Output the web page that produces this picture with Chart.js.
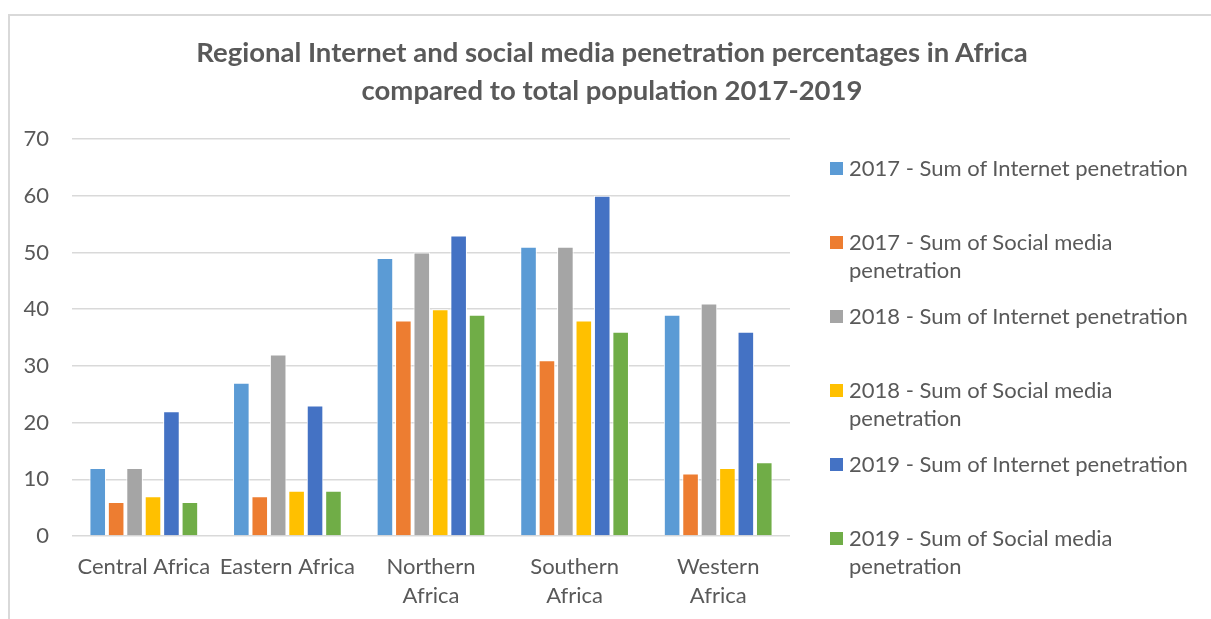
<!DOCTYPE html>
<html>
<head>
<meta charset="utf-8">
<script src="https://cdn.jsdelivr.net/npm/chart.js@4.4.1/dist/chart.umd.min.js"></script>
<style>
  html, body { margin: 0; padding: 0; background: #fff; overflow: hidden; }
  #frame {
    position: absolute; left: 8px; top: 14px; width: 1220px; height: 640px;
    border: 2px solid #d9d9d9; box-sizing: border-box;
  }
  #wrap { position: absolute; left: 0; top: 0; width: 1211px; height: 619px; }
  #title {
    position: absolute; left: 12px; top: 33px; width: 1200px; text-align: center;
    font-family: Lato, "Open Sans", sans-serif; font-size: 27.5px; font-weight: bold;
    line-height: 38px; color: #595959;
  }
  #legend {
    position: absolute; left: 830px; top: 154px; width: 380px;
    font-family: Lato, "Open Sans", sans-serif; font-size: 22px; color: #595959;
  }
  .item { position: relative; height: 74px; }
  .sw { position: absolute; left: 0; top: 8px; width: 13px; height: 13px; }
  .txt { position: absolute; left: 19px; top: 0; width: 358px; line-height: 28px; }
</style>
</head>
<body>
<div id="frame"></div>
<div id="wrap"><canvas id="chart" width="1211" height="619"></canvas></div>
<div id="title"></div>
<div id="legend"></div>
<script>
// regions on the x axis
const regions = [
  ["Central Africa"],
  ["Eastern Africa"],
  ["Northern", "Africa"],
  ["Southern", "Africa"],
  ["Western", "Africa"],
];

// values, in percent
const internet2017 = [12, 27, 49, 51, 39];
const social2017 = [6, 7, 38, 31, 11];
const internet2018 = [12, 32, 50, 51, 41];
const social2018 = [7, 8, 40, 38, 12];
const internet2019 = [22, 23, 53, 60, 36];
const social2019 = [6, 8, 39, 36, 13];

const seriesNames = [
  "2017 - Sum of Internet penetration",
  "2017 - Sum of Social media penetration",
  "2018 - Sum of Internet penetration",
  "2018 - Sum of Social media penetration",
  "2019 - Sum of Internet penetration",
  "2019 - Sum of Social media penetration",
];
const seriesValues = [internet2017, social2017, internet2018, social2018, internet2019, social2019];
const colors = ["#5B9BD5", "#ED7D31", "#A5A5A5", "#FFC000", "#4472C4", "#70AD47"];

const yTicks = [0, 10, 20, 30, 40, 50, 60, 70];

const titleLines = [
  "Regional Internet and social media penetration percentages in Africa",
  "compared to total population 2017-2019",
];

const font = "Lato, 'Open Sans', sans-serif";
const grey = "#595959";

document.getElementById("title").innerHTML = titleLines.join("<br>");

const chart = new Chart(document.getElementById("chart"), {
  type: "bar",
  data: {
    labels: regions,
    datasets: seriesNames.map((name, i) => ({
      label: name,
      data: seriesValues[i],
      backgroundColor: colors[i],
      borderColor: "#ffffff",
      borderWidth: 1,
      categoryPercentage: 0.77,
      barPercentage: 0.9,
    })),
  },
  options: {
    responsive: false,
    animation: false,
    layout: { padding: { top: 139, right: 421, bottom: 0, left: 0 } },
    plugins: {
      legend: { display: false },
      tooltip: { enabled: false },
      title: { display: false },
    },
    scales: {
      x: {
        grid: { display: false, drawTicks: false },
        border: { display: false },
        ticks: {
          color: grey,
          font: { family: font, size: 22, lineHeight: 1.32 },
          padding: 16,
          maxRotation: 0,
          autoSkip: false,
        },
        afterFit: (s) => { s.height = 83; },
      },
      y: {
        min: yTicks[0],
        max: yTicks[yTicks.length - 1],
        afterBuildTicks: (s) => { s.ticks = yTicks.map((v) => ({ value: v })); },
        grid: { color: "#d9d9d9", lineWidth: 1.5, drawTicks: false },
        border: { display: false },
        ticks: {
          color: grey,
          font: { family: font, size: 22 },
          padding: 23,
        },
        afterFit: (s) => { s.width = 72; },
      },
    },
  },
});

// legend built from the chart datasets
const legend = document.getElementById("legend");
chart.data.datasets.forEach((ds) => {
  const item = document.createElement("div");
  item.className = "item";
  item.innerHTML = '<div class="sw" style="background:' + ds.backgroundColor + '"></div>' +
    '<div class="txt">' + ds.label + "</div>";
  legend.appendChild(item);
});
</script>
</body>
</html>
